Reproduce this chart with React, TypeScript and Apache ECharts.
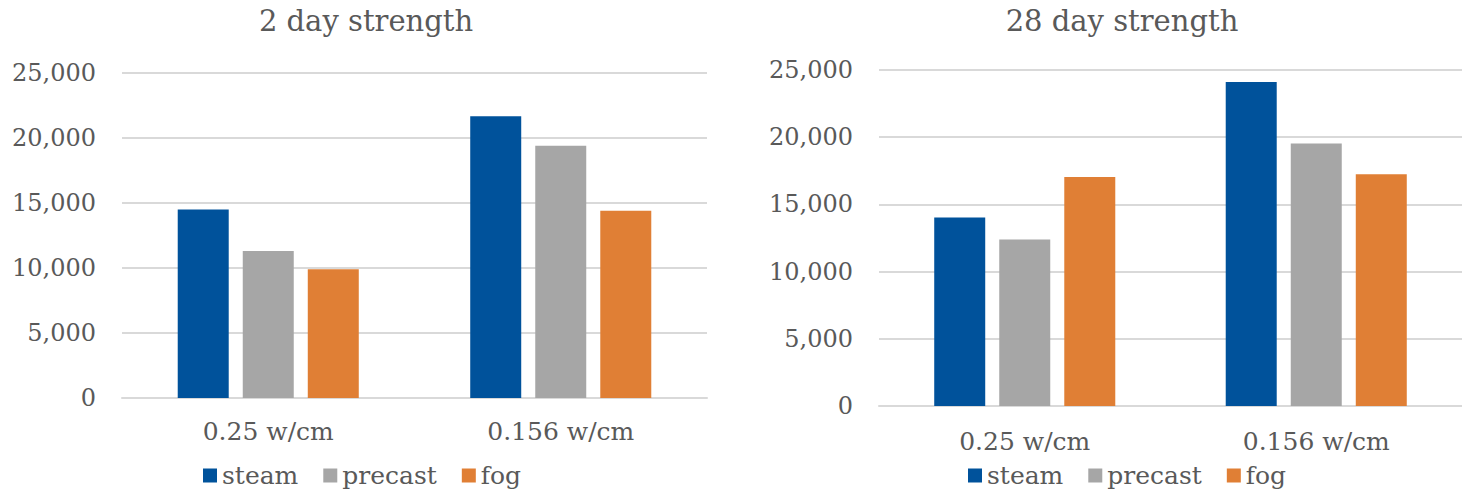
import React, { useEffect, useRef } from "react";
import * as echarts from "echarts";

// Categories and series shared by both panels
const categories = ["0.25 w/cm", "0.156 w/cm"];
const seriesNames = ["steam", "precast", "fog"];
const seriesColors = ["#00529b", "#a6a6a6", "#e07f35"];

// 2 day strength
const day2Steam = [14500, 21670];
const day2Precast = [11300, 19400];
const day2Fog = [9900, 14400];

// 28 day strength
const day28Steam = [14030, 24100];
const day28Precast = [12380, 19530];
const day28Fog = [17040, 17240];

const panelTitles = ["2 day strength", "28 day strength"];

const FONT = "'DejaVu Serif', serif";
const TEXT = "#595959";
const GRID_LINE = "#d9d9d9";

export default function App() {
  const ref = useRef<HTMLDivElement>(null);

  useEffect(() => {
    if (!ref.current) return;
    const chart = echarts.init(ref.current, undefined, { renderer: "svg" });

    const panels = [
      { data: [day2Steam, day2Precast, day2Fog], grid: { left: 122, top: 73, width: 585, height: 325 }, labelMargin: 21, titleX: 366, legendX: 203 },
      { data: [day28Steam, day28Precast, day28Fog], grid: { left: 879, top: 70, width: 584, height: 336 }, labelMargin: 23, titleX: 1122, legendX: 968 },
    ];

    const option: echarts.EChartsOption = {
      animation: false,
      backgroundColor: "#ffffff",
      title: panels.map((p, i) => ({
        text: panelTitles[i],
        left: p.titleX,
        top: 6,
        padding: 0,
        textAlign: "center",
        textStyle: { fontFamily: FONT, fontSize: 29, fontWeight: "normal", color: TEXT },
      })),
      legend: panels.map((p) => ({
        data: seriesNames,
        left: p.legendX,
        top: 463,
        padding: 0,
        itemWidth: 14,
        itemHeight: 14,
        itemGap: 25,
        icon: "rect",
        textStyle: { fontFamily: FONT, fontSize: 25, color: TEXT },
      })),
      grid: panels.map((p) => ({ ...p.grid, containLabel: false })),
      xAxis: panels.map((p, i) => ({
        type: "category",
        gridIndex: i,
        data: categories,
        axisTick: { show: false },
        axisLine: { show: true, lineStyle: { color: GRID_LINE, width: 2 } },
        axisLabel: { fontFamily: FONT, fontSize: 25, color: TEXT, margin: p.labelMargin },
      })),
      yAxis: panels.map((_, i) => ({
        type: "value",
        gridIndex: i,
        min: 0,
        max: 25000,
        interval: 5000,
        axisLine: { show: false },
        axisTick: { show: false },
        splitLine: { show: true, lineStyle: { color: GRID_LINE, width: 2 } },
        axisLabel: {
          fontFamily: FONT,
          fontSize: 24,
          color: TEXT,
          margin: 26,
          formatter: (v: number) => v.toLocaleString("en-US"),
        },
      })),
      series: panels.flatMap((p, i) =>
        seriesNames.map((name, s) => ({
          type: "bar" as const,
          name,
          xAxisIndex: i,
          yAxisIndex: i,
          data: p.data[s],
          barWidth: 51,
          barGap: "27.5%",
          itemStyle: { color: seriesColors[s] },
        }))
      ),
    };

    chart.setOption(option);
    return () => chart.dispose();
  }, []);

  return (
    <div
      ref={ref}
      style={{ position: "fixed", left: 0, top: 0, width: 1462, height: 491, background: "#fff" }}
    />
  );
}
